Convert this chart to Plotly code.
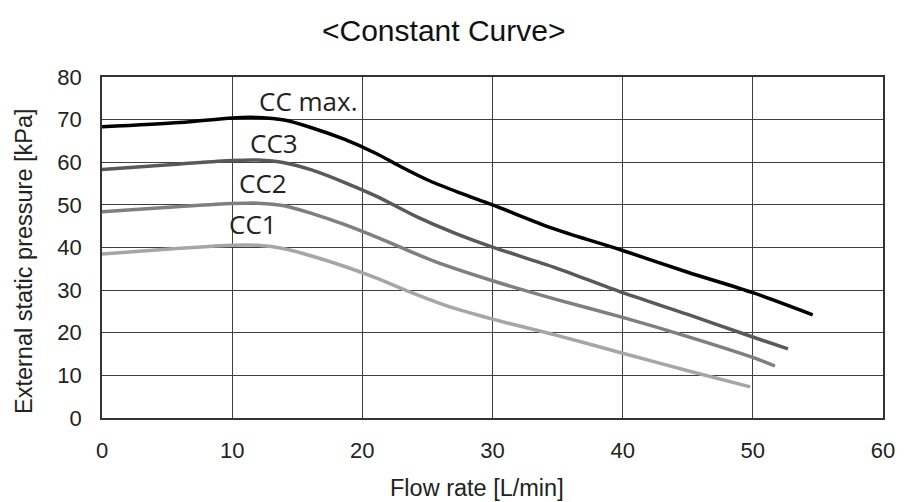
import plotly.graph_objects as go

# Data
x_ccmax = [0, 6, 10, 12, 14, 16.1, 18.6, 21.1, 23, 25.2, 27.5, 30, 34.8, 40, 45, 50, 54.6]
y_ccmax = [68.3, 69.3, 70.4, 70.5, 69.9, 68.1, 65.4, 62.0, 58.9, 55.6, 52.8, 50.0, 44.3, 39.3, 34.2, 29.4, 24.2]

x_cc3 = [0, 6, 10, 12, 14, 16.1, 18.6, 21.1, 24.2, 27, 30, 34.8, 40, 45, 50, 52.7]
y_cc3 = [58.3, 59.6, 60.4, 60.5, 59.9, 58.2, 55.3, 52.0, 47.2, 43.5, 40.1, 35.3, 29.4, 24.3, 19.0, 16.2]

x_cc2 = [0, 6, 10, 12, 14, 16.1, 18.6, 21.6, 25.5, 30, 34.8, 40, 45, 50, 51.7]
y_cc2 = [48.4, 49.6, 50.3, 50.4, 49.8, 48.0, 45.4, 41.8, 36.8, 32.2, 27.9, 23.6, 19.1, 14.2, 12.2]

x_cc1 = [0, 6, 10, 12, 14, 16.1, 18.6, 21.1, 23.4, 26.5, 30, 34.8, 40, 45, 49.8]
y_cc1 = [38.5, 39.8, 40.5, 40.5, 39.7, 38.0, 35.6, 32.8, 29.9, 26.3, 23.2, 19.5, 15.2, 11.1, 7.3]

series_names = ["CC max.", "CC3", "CC2", "CC1"]
series_colors = ["#000000", "#595959", "#7f7f7f", "#a6a6a6"]
label_x = [15.8, 13.2, 12.4, 11.6]
label_y = [74.4, 64.6, 55.2, 45.4]

x_ticks = [0, 10, 20, 30, 40, 50, 60]
y_ticks = [0, 10, 20, 30, 40, 50, 60, 70, 80]

title_text = "&lt;Constant Curve&gt;"
x_title = "Flow rate [L/min]"
y_title = "External static pressure [kPa]"

xs = [x_ccmax, x_cc3, x_cc2, x_cc1]
ys = [y_ccmax, y_cc3, y_cc2, y_cc1]

fig = go.Figure()
for name, col, xv, yv in zip(series_names, series_colors, xs, ys):
    fig.add_trace(go.Scatter(
        x=xv, y=yv, mode="lines", name=name,
        line=dict(color=col, width=3.5, shape="spline", smoothing=0.8),
        showlegend=False,
    ))

for name, lx, ly in zip(series_names, label_x, label_y):
    fig.add_annotation(x=lx, y=ly, xref="x", yref="y", text=name, showarrow=False,
                       font=dict(family="Open Sans", size=26, color="#222222"))

# Chart title and axis titles (placed like the reference)
fig.add_annotation(x=0.4379, y=1.135, xref="paper", yref="paper", text=title_text,
                   showarrow=False, xanchor="center", yanchor="middle",
                   font=dict(family="Arial", size=30, color="#111111"))
fig.add_annotation(x=0.4797, y=-0.205, xref="paper", yref="paper", text=x_title,
                   showarrow=False, xanchor="center", yanchor="middle",
                   font=dict(family="Arial", size=23.5, color="#222222"))
fig.add_annotation(x=-0.100, y=0.46, xref="paper", yref="paper", text=y_title,
                   showarrow=False, xanchor="center", yanchor="middle", textangle=-90,
                   font=dict(family="Arial", size=23.5, color="#222222"))

axis_common = dict(
    showline=True, linecolor="#333333", linewidth=1.5, mirror=True,
    showgrid=True, gridcolor="#404040", gridwidth=1,
    zeroline=False, ticks="", tickfont=dict(family="Arial", size=22, color="#222222"),
)

fig.update_layout(
    width=899, height=494,
    paper_bgcolor="white", plot_bgcolor="white",
    margin=dict(l=94, r=16, t=69, b=84),
    xaxis=dict(range=[0, 60], tickvals=x_ticks, ticklabelstandoff=12, **axis_common),
    yaxis=dict(range=[0, 80], tickvals=y_ticks, ticklabelstandoff=14, **axis_common),
)

fig.write_html("out.html")
